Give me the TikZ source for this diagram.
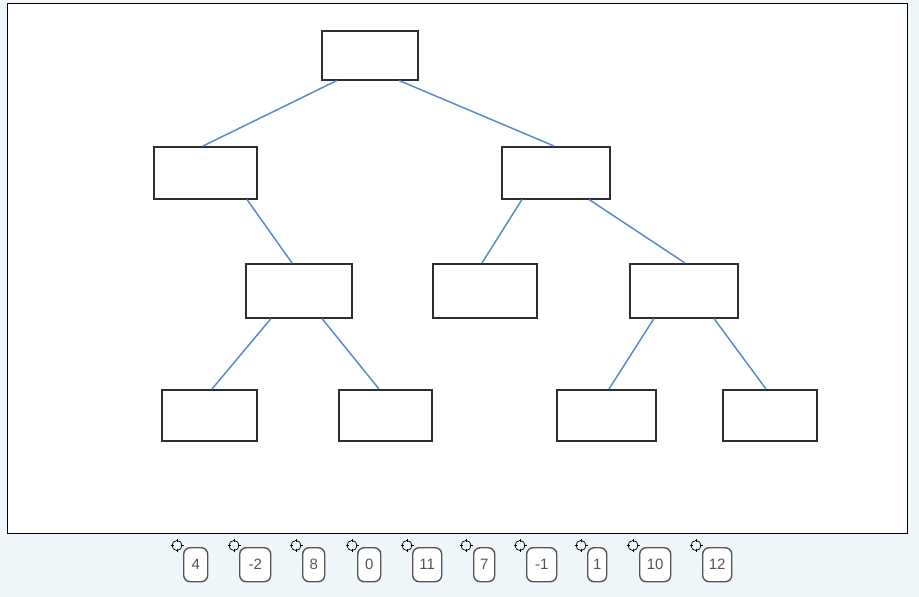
\documentclass[tikz,border=0pt]{standalone}
\usepackage{fontspec}
\setmainfont{Liberation Sans}
\usetikzlibrary{calc}
\definecolor{pagebg}{HTML}{EEF6FA}
\definecolor{edgeblue}{HTML}{5B8BCF}
\definecolor{boxgrey}{HTML}{2E2E2E}
\definecolor{chipgrey}{HTML}{555555}
\begin{document}
\begin{tikzpicture}[x=1pt,y=-1pt,
  treebox/.style={draw=boxgrey,line width=1.5pt,fill=white,inner sep=0pt,anchor=north west},
  link/.style={draw=edgeblue,line width=1.5pt},
  chip/.style={draw=chipgrey,line width=1.4pt,rounded corners=6.5pt,fill=white,inner sep=0pt,
    anchor=north west,minimum height=34pt,text=chipgrey,font=\fontsize{15}{15}\selectfont},
  handle/.style={draw=black,line width=0.7pt}]
  % page and canvas
  \fill[pagebg] (0,0) rectangle (919,597);
  \useasboundingbox (0,0) rectangle (919,597);
  \draw[black,line width=1.2pt,fill=white] (7.5,3.5) rectangle (907.5,533.5);

  % tree boxes (top-left corner, size)
  \node[treebox,minimum width=96pt,minimum height=49pt]  (root) at (321,30) {};
  \node[treebox,minimum width=103pt,minimum height=52pt] (l)    at (153,146) {};
  \node[treebox,minimum width=108pt,minimum height=52pt] (r)    at (501,146) {};
  \node[treebox,minimum width=106pt,minimum height=54pt] (lr)   at (245,263) {};
  \node[treebox,minimum width=104pt,minimum height=54pt] (rl)   at (432,263) {};
  \node[treebox,minimum width=108pt,minimum height=54pt] (rr)   at (629,263) {};
  \node[treebox,minimum width=95pt,minimum height=51pt]  (lrl)  at (161,389) {};
  \node[treebox,minimum width=93pt,minimum height=51pt]  (lrr)  at (338,389) {};
  \node[treebox,minimum width=99pt,minimum height=51pt]  (rrl)  at (556,389) {};
  \node[treebox,minimum width=94pt,minimum height=51pt]  (rrr)  at (722,389) {};

  % links between parent and child
  \draw[link] ([xshift=16pt]root.south west) -- ([xshift=50pt]l.north west);
  \draw[link] ([xshift=78pt]root.south west) -- ([xshift=53pt]r.north west);
  \draw[link] ([xshift=94pt]l.south west)    -- ([xshift=47pt]lr.north west);
  \draw[link] ([xshift=21pt]r.south west)    -- ([xshift=50pt]rl.north west);
  \draw[link] ([xshift=88pt]r.south west)    -- ([xshift=56pt]rr.north west);
  \draw[link] ([xshift=26pt]lr.south west)   -- ([xshift=51pt]lrl.north west);
  \draw[link] ([xshift=77pt]lr.south west)   -- ([xshift=41pt]lrr.north west);
  \draw[link] ([xshift=25pt]rr.south west)   -- ([xshift=53pt]rrl.north west);
  \draw[link] ([xshift=85pt]rr.south west)   -- ([xshift=44pt]rrr.north west);

  % value chips with their drag handles
  \foreach \v/\px/\w/\hx [count=\i] in {4/183/24/177, -2/239/31/234, 8/302/22/296, 0/357/23/352,
      11/412/29/407, 7/473/21/466, -1/526/30/520, 1/587/19/581, 10/639/31/633, 12/702/29/696}{
    \node[chip,minimum width=\w pt] (chip\i) at (\px,547) {\v};
    \coordinate (grip\i) at (\hx,545.5);
    \draw[handle] (grip\i) circle (5pt);
    \draw[handle] ([yshift=-6.5pt]grip\i) -- ([yshift=-3.5pt]grip\i)
                  ([yshift=3.5pt]grip\i) -- ([yshift=6.5pt]grip\i)
                  ([xshift=-6.5pt]grip\i) -- ([xshift=-3.5pt]grip\i)
                  ([xshift=3.5pt]grip\i) -- ([xshift=6.5pt]grip\i);
  }
\end{tikzpicture}
\end{document}
